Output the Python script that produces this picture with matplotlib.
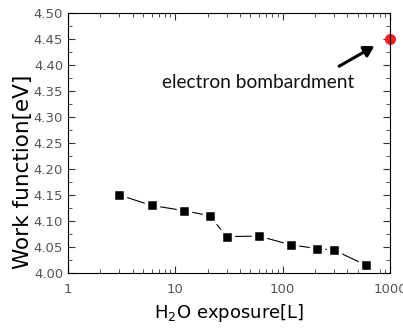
import numpy as np
import matplotlib
matplotlib.use("Agg")
import matplotlib.pyplot as plt
from matplotlib.ticker import LogLocator, MultipleLocator, FixedLocator

# H2O exposure series
exposure = [3, 6, 12, 21, 30, 60, 120, 210, 300, 600]
work_fn = [4.150, 4.130, 4.120, 4.110, 4.070, 4.071, 4.054, 4.047, 4.044, 4.015]

# electron bombardment point
eb_x = [1000]
eb_y = [4.45]

x_ticks = [1, 10, 100, 1000]
x_ticklabels = ["1", "10", "100", "1000"]
y_ticks = [4.00, 4.05, 4.10, 4.15, 4.20, 4.25, 4.30, 4.35, 4.40, 4.45, 4.50]

fig = plt.figure(figsize=(4.03, 3.28), dpi=100)
ax = fig.add_axes([68/403, 1-273/328, (390-68)/403, (273-13)/328])

ax.plot(exposure, work_fn, color='k', lw=0.8, marker='s', ms=8,
        mfc='k', mec='white', mew=2.5)
ax.plot(eb_x, eb_y, 'o', color='#ee2222', ms=8, mec='none', clip_on=False)

ax.set_xscale('log')
ax.set_xlim(1, 1000)
ax.set_ylim(4.0, 4.5)

ax.xaxis.set_major_locator(FixedLocator(x_ticks))
ax.set_xticklabels(x_ticklabels)
ax.xaxis.set_minor_locator(LogLocator(base=10, subs=np.arange(2, 10)))
ax.yaxis.set_major_locator(FixedLocator(y_ticks))
ax.yaxis.set_minor_locator(MultipleLocator(0.025))
ax.set_yticklabels([f"{v:.2f}" for v in y_ticks])

ax.tick_params(which='both', direction='in', top=True, right=True,
               labelsize=9.5, labelcolor='#555555', color='#333333')
ax.tick_params(which='major', length=5, width=0.8)
ax.tick_params(which='minor', length=3, width=0.6)
ax.tick_params(axis='x', pad=7)
for s in ax.spines.values():
    s.set_linewidth(0.8)

ax.set_xlabel("H$_2$O exposure[L]", fontsize=13, fontfamily='DejaVu Sans')
ax.xaxis.set_label_coords(0.5, -0.11)
ax.set_ylabel("Work function[eV]", fontsize=15.5, fontfamily='DejaVu Sans')
ax.yaxis.set_label_coords(-0.11, 0.39)

ax.annotate("", xy=(753, 4.439), xytext=(319, 4.395),
            arrowprops=dict(arrowstyle='-|>,head_length=0.6,head_width=0.35',
                            color='k', lw=2.2))
ax.text(59, 4.367, "electron bombardment", fontsize=13.8, fontfamily='Lato',
        ha='center', va='center', color='#111111')

fig.savefig("out.png", dpi=100)
